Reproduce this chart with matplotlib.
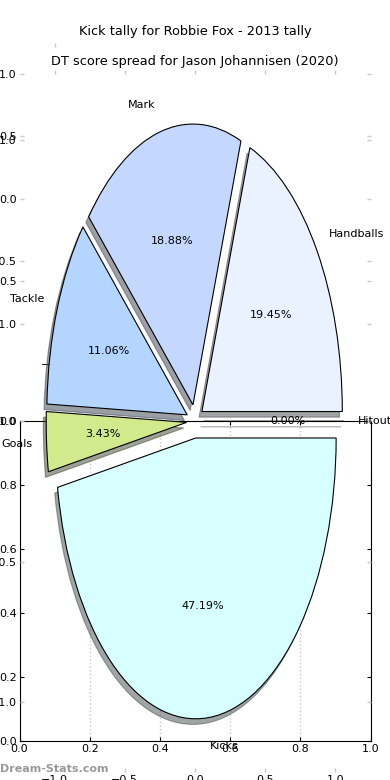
import matplotlib
matplotlib.use('Agg')
import matplotlib.pyplot as plt

# DT score spread, per cent of the total
labels = ['Handballs', 'Mark', 'Tackle', 'Goals', 'Kicks', 'Hitout']
shares = [19.45, 18.88, 11.06, 3.43, 47.19, 0.0]
colours = ['#eaf1ff', '#c4d8ff', '#b3d5ff', '#d0ea8c', '#d8ffff', '#f0f0f0']
pie_ticks = [-1.0, -0.5, 0.0, 0.5, 1.0]

title_top = 'Kick tally for Robbie Fox - 2013 tally'
title_pie = 'DT score spread for Jason Johannisen (2020)'

plt.rcParams['font.size'] = 8


def ghost_axes(ax):
    """pie-style axes: no spines, faint ticks, see-through"""
    for s in ax.spines.values():
        s.set_visible(False)
    ax.set_facecolor('none')
    ax.set_xlim(-1.25, 1.25)
    ax.set_ylim(-1.25, 1.25)
    ax.set_xticks(pie_ticks)
    ax.set_yticks(pie_ticks)
    ax.tick_params(direction='in', length=3, width=1, color='#c8c8c8',
                   pad=2, top=True, right=True, labelsize=8)


fig = plt.figure(figsize=(3.9, 7.8), dpi=100)

# plain 0-1 axes in the lower half
ax_c = fig.add_axes([0.05, 0.05, 0.9, 0.41])
ax_c.set_xlim(0, 1)
ax_c.set_ylim(0, 1)
ax_c.grid(axis='x', linestyle=':', color='#c8c8c8', linewidth=1)
ax_c.tick_params(direction='in', length=3, top=True, right=True, pad=2,
                 labelsize=8)

# empty axes left over from the kick tally
ax_a = fig.add_axes([0.05, 0.545, 0.9, 0.40])
ghost_axes(ax_a)
ax_a.tick_params(axis='x', pad=4)
ax_a.set_title(title_top, fontsize=9.3)
for t in ax_a.xaxis.get_major_ticks()[1:]:
    t.tick2line.set_visible(False)
    t.label1.set_visible(False)

# the pie itself
ax_b = fig.add_axes([0.05, 0.01, 0.9, 0.9])
# shadow offset of 0.02 data units (ox/oy are in points)
ax_b.pie(shares, labels=labels, colors=colours,
         explode=[0.06] * len(shares), autopct='%.2f%%',
         shadow=dict(ox=-0.0144, oy=-0.0144),
         startangle=0, frame=True,
         wedgeprops=dict(edgecolor='black', linewidth=0.8),
         textprops=dict(fontsize=8))
ax_b.set_aspect('auto')
ghost_axes(ax_b)
ax_b.set_title(title_pie, fontsize=9.3, pad=4)

fig.text(0.0, 0.014, 'Dream-Stats.com', color='#999999', fontsize=8,
         fontweight='bold', ha='left', va='center')

fig.savefig('out.png', dpi=100)
